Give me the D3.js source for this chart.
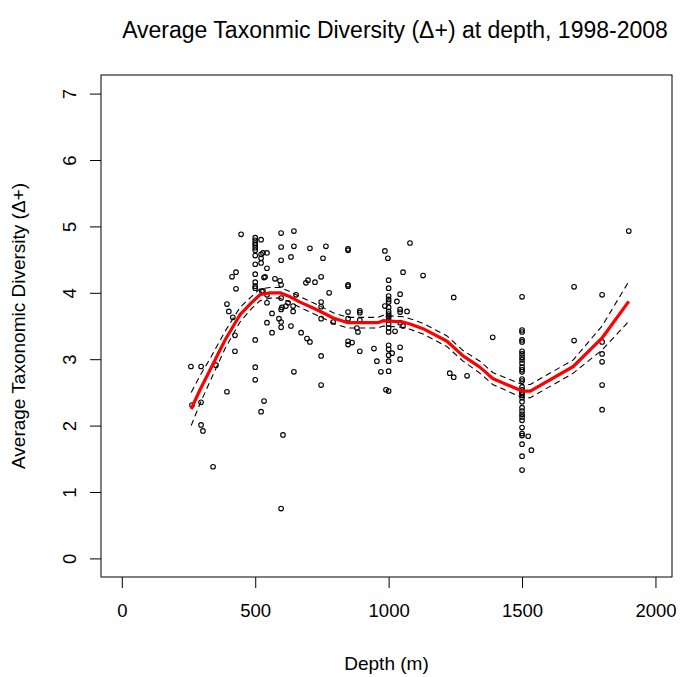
<!DOCTYPE html>
<html>
<head>
<meta charset="utf-8">
<script src="https://cdn.jsdelivr.net/npm/d3@7"></script>
<style>
  html, body { margin: 0; padding: 0; background: #fff; }
  svg { display: block; font-family: "Liberation Sans", Arial, sans-serif; }
</style>
</head>
<body>
<svg id="chart" width="680" height="677"></svg>
<script>
// ---- Data ----
const depth = [
  259,297,353,263,297,297,304,342,
  394,424,424,416,401,394,428,413,428,447,
  500,500,500,500,500,500,500,500,500,500,500,500,500,500,500,
  522,533,525,522,522,522,522,533,
  597,645,597,645,705,765,848,848,529,544,597,634,754,544,537,574,593,597,690,698,724,747,848,848,529,777,544,597,653,623,615,747,747,544,642,597,600,642,563,848,747,589,597,544,597,634,848,563,672,694,705,848,848,863,747,645,747,604,597,
  1080,986,997,1054,1129,
  1000,1000,1000,1000,1000,1000,1000,1000,1000,1000,1000,1000,1000,1000,1000,1000,1000,1000,1000,1000,
  1043,1031,986,1043,1043,1069,892,892,892,792,1054,1043,1024,881,885,892,945,1013,1043,1043,956,971,990,
  1244,1229,1244,1294,
  1390,
  1500,1500,1500,1500,1500,1500,1500,1500,1500,1500,1500,1500,1500,1500,1500,1500,1500,1500,1500,1500,1500,1500,1500,1500,1500,1500,1500,1500,1500,1500,1500,1500,1500,
  1523,1535,1695,1695,
  1800,1800,1800,1800,1800,1800,
  1900
];
const delta = [
  2.89,2.89,2.91,2.31,2.35,2.01,1.92,1.38,
  2.51,3.12,3.36,3.63,3.72,3.83,4.06,4.24,4.31,4.88,
  4.83,4.79,4.75,4.72,4.68,4.64,4.56,4.43,4.28,4.16,4.10,4.07,3.29,2.88,2.69,
  4.80,4.23,4.02,4.58,4.52,4.45,2.21,2.37,
  4.90,4.93,4.69,4.70,4.67,4.70,4.66,4.64,4.60,4.60,4.49,4.54,4.52,4.37,4.24,4.21,4.18,4.12,4.15,4.19,4.16,4.24,4.12,4.10,4.03,4.00,3.97,3.92,3.97,3.85,3.80,3.86,3.79,3.85,3.80,3.75,3.78,3.72,3.69,3.71,3.61,3.61,3.56,3.55,3.48,3.50,3.61,3.40,3.40,3.31,3.26,3.27,3.22,3.25,3.05,2.81,2.61,1.86,0.75,
  4.75,4.63,4.52,4.31,4.26,
  4.19,4.07,3.95,3.90,3.86,3.78,3.72,3.68,3.65,3.63,3.59,3.53,3.47,3.41,3.21,3.15,3.06,2.97,2.82,2.52,
  3.98,3.87,3.80,3.75,3.71,3.72,3.73,3.70,3.59,3.56,3.50,3.55,3.42,3.47,3.41,3.12,3.16,3.09,3.18,3.00,2.97,2.81,2.54,
  3.93,2.79,2.73,2.75,
  3.33,
  3.94,3.44,3.41,3.29,3.26,3.12,3.08,3.03,2.99,2.94,2.88,2.84,2.81,2.70,2.67,2.58,2.54,2.50,2.49,2.46,2.42,2.36,2.27,2.22,2.17,2.13,2.08,1.97,1.88,1.85,1.72,1.54,1.33,
  1.84,1.63,4.09,3.28,
  3.97,3.26,3.08,2.96,2.61,2.24,
  4.93
];

// fitted curve and confidence band
const fitDepth = [260,293,331,387,443,488,518,555,593,630,668,717,754,792,848,960,979,1054,1080,1129,1219,1279,1342,1390,1500,1531,1692,1800,1900];
const fitValue = [2.25,2.54,2.84,3.29,3.67,3.86,3.97,4.00,4.00,3.94,3.86,3.77,3.70,3.62,3.55,3.55,3.58,3.56,3.53,3.46,3.27,3.05,2.88,2.71,2.52,2.52,2.89,3.32,3.87];
const fitUpper = [2.50,2.75,3.01,3.42,3.78,3.95,4.06,4.08,4.08,4.02,3.94,3.85,3.78,3.70,3.63,3.63,3.66,3.64,3.61,3.54,3.35,3.13,2.97,2.80,2.62,2.62,2.99,3.50,4.17];
const fitLower = [2.00,2.33,2.67,3.16,3.56,3.77,3.88,3.92,3.92,3.86,3.78,3.69,3.62,3.54,3.47,3.47,3.50,3.48,3.45,3.38,3.19,2.97,2.79,2.62,2.42,2.42,2.79,3.14,3.57];

const xTicks = [0, 500, 1000, 1500, 2000];
const yTicks = [0, 1, 2, 3, 4, 5, 6, 7];

const titleText = "Average Taxonmic Diversity (\u0394+) at depth, 1998-2008";
const xLabel = "Depth (m)";
const yLabel = "Average Taxonomic Diversity (\u0394+)";

// ---- Layout ----
const box = {left: 101, right: 672, top: 75, bottom: 577};
const svg = d3.select("#chart");

const x = d3.scaleLinear().domain([-78, 2062]).range([box.left, box.right]);
const y = d3.scaleLinear().domain([-0.28, 7.28]).range([box.bottom, box.top]);

// box
svg.append("rect")
  .attr("x", box.left).attr("y", box.top)
  .attr("width", box.right - box.left).attr("height", box.bottom - box.top)
  .attr("fill", "none").attr("stroke", "#000").attr("stroke-width", 1);

// x axis
const xAxis = svg.append("g")
  .attr("transform", `translate(0,${box.bottom})`)
  .call(d3.axisBottom(x).tickValues(xTicks).tickSize(11).tickPadding(16).tickFormat(d3.format("d")));
xAxis.select(".domain").remove();
xAxis.selectAll("text").attr("font-size", 18.5).attr("fill", "#000")
  .attr("font-family", "Liberation Sans, Arial, sans-serif");
xAxis.selectAll("line").attr("stroke", "#000");

// y axis
const yAxis = svg.append("g")
  .attr("transform", `translate(${box.left},0)`)
  .call(d3.axisLeft(y).tickValues(yTicks).tickSize(11).tickFormat(d3.format("d")));
yAxis.select(".domain").remove();
yAxis.selectAll("line").attr("stroke", "#000");
yAxis.selectAll("text").remove();
yAxis.selectAll(".tick").append("text")
  .attr("transform", "translate(-31,0) rotate(-90)")
  .attr("text-anchor", "middle")
  .attr("dy", "0.35em")
  .attr("font-size", 18.5)
  .attr("fill", "#000")
  .text(d => d);

// labels
svg.append("text")
  .attr("x", 395).attr("y", 38)
  .attr("text-anchor", "middle").attr("font-size", 23).attr("fill", "#000")
  .text(titleText);
svg.append("text")
  .attr("x", (box.left + box.right) / 2).attr("y", 670)
  .attr("text-anchor", "middle").attr("font-size", 19).attr("fill", "#000")
  .text(xLabel);
svg.append("text")
  .attr("transform", `translate(25,${(box.top + box.bottom) / 2}) rotate(-90)`)
  .attr("text-anchor", "middle").attr("font-size", 19).attr("fill", "#000")
  .text(yLabel);

// points
const pts = depth.map((d, i) => ({d: d, v: delta[i]}));
svg.append("g").selectAll("circle").data(pts).join("circle")
  .attr("cx", p => x(p.d)).attr("cy", p => y(p.v)).attr("r", 2.3)
  .attr("fill", "none").attr("stroke", "#000").attr("stroke-width", 1.1);

// band
const line = d3.line().x(p => x(p[0])).y(p => y(p[1]));
[fitUpper, fitLower].forEach(arr => {
  svg.append("path")
    .attr("d", line(fitDepth.map((d, i) => [d, arr[i]])))
    .attr("fill", "none").attr("stroke", "#000").attr("stroke-width", 1.1)
    .attr("stroke-dasharray", "6,4");
});
svg.append("path")
  .attr("d", line(fitDepth.map((d, i) => [d, fitValue[i]])))
  .attr("fill", "none").attr("stroke", "#ff0000").attr("stroke-width", 3.2)
  .attr("stroke-linejoin", "round");
</script>
</body>
</html>
